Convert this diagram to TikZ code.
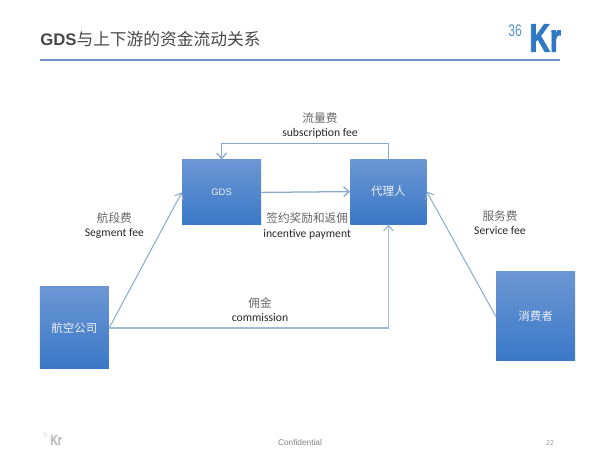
\documentclass[tikz,border=0pt]{standalone}
\usepackage{fontspec}
\setmainfont{Carlito}
\newfontfamily\cjk{Noto Sans CJK SC}
\newfontfamily\arial{Liberation Sans}
\newfontfamily\logofont[FakeBold=2.5]{Liberation Sans Bold}
\usetikzlibrary{arrows.meta}
\definecolor{mblue}{rgb}{0.54, 0.66, 0.80}
\definecolor{mrule}{rgb}{0.45, 0.58, 0.78}
\definecolor{mlogo}{rgb}{0.18, 0.47, 0.77}
\definecolor{mtop}{rgb}{0.42, 0.59, 0.83}
\definecolor{mbottom}{rgb}{0.23, 0.47, 0.78}
\newcommand{\feecn}[1]{{\cjk\color{black!60}#1}}
\tikzset{flow/.style = {draw=mblue, line width=0.9pt, -{Straight Barb[length=4pt, width=7pt]}}}
\tikzset{party/.style = {rectangle, inner sep=0, top color=mtop, bottom color=mbottom, text=white!85!mblue, font=\cjk\fontsize{8.2}{10}\selectfont}}
\tikzset{fee/.style = {align=center, inner sep=0, text=black!85, font=\fontsize{8.3}{10}\selectfont}}
\tikzset{logomark/.style = {inner sep=0, transform shape, xscale=0.72}}
\begin{document}
\begin{tikzpicture}
    \useasboundingbox (0, 0) rectangle (15, 11.25);

    \node (title) at (1, 10.28) [anchor=west, inner sep=0, text=black!72] {\fontsize{11.9}{14}\selectfont\arial\textbf{GDS}\cjk 与上下游的资金流动关系};
    \coordinate (ruleL) at (1, 9.76);
    \coordinate (ruleR) at (14, 9.76);
    \draw [mrule, line width=1.3pt] (ruleL) -- (ruleR);

    \node (logo36) at (12.88, 10.48) [logomark, text=mlogo!80] {\fontsize{12}{14}\selectfont\arial 36};
    \node (logoKr) at (13.63, 10.3) [logomark, text=mlogo] {\fontsize{28}{30}\selectfont\logofont Kr};

    % the four parties
    \node (gds) at (5.54, 6.44) [party, minimum width=1.975cm, minimum height=1.625cm] {\arial\fontsize{6.7}{8}\selectfont GDS};
    \node (agent) at (9.71, 6.46) [party, minimum width=1.9cm, minimum height=1.625cm] {代理人};
    \node (airline) at (1.86, 3.05) [party, minimum width=1.725cm, minimum height=2.05cm] {航空公司};
    \node (consumer) at (13.39, 3.34) [party, minimum width=1.975cm, minimum height=2.225cm] {消费者};

    \draw [flow] (agent.north) -- ++(0, 0.375) -| (gds.north);
    \draw [flow] (gds.east) -- (agent.west);
    \draw [flow, line width=0.7pt] (airline.east) -- (gds.west);
    \draw [flow, draw=mblue!80] (airline.east) -| (agent.south);
    \draw [flow, line width=0.7pt] (consumer.west) -- (agent.east);

    \node (subfee) at (8, 8.1) [fee] {\feecn{流量费}\\subscription fee};
    \node (segfee) at (2.86, 5.6) [fee] {\feecn{航段费}\\Segment fee};
    \node (incfee) at (7.68, 5.6) [fee] {\feecn{签约奖励和返佣}\\incentive payment};
    \node (comfee) at (6.5, 3.5) [fee] {\feecn{佣金}\\commission};
    \node (serfee) at (12.5, 5.68) [fee] {\feecn{服务费}\\Service fee};

    \node (grey36) at (1.13, 0.36) [logomark, text=black!15] {\fontsize{4.5}{5}\selectfont\arial 36};
    \node (greyKr) at (1.4, 0.25) [logomark, text=black!25] {\fontsize{10}{11}\selectfont\logofont Kr};
    \node (conf) at (7.5, 0.18) [inner sep=0, text=black!50] {\fontsize{5.9}{7}\selectfont\arial Confidential};
    \node (page) at (13.75, 0.18) [inner sep=0, text=black!40] {\fontsize{5}{6}\selectfont\arial 22};
  \end{tikzpicture}
\end{document}
